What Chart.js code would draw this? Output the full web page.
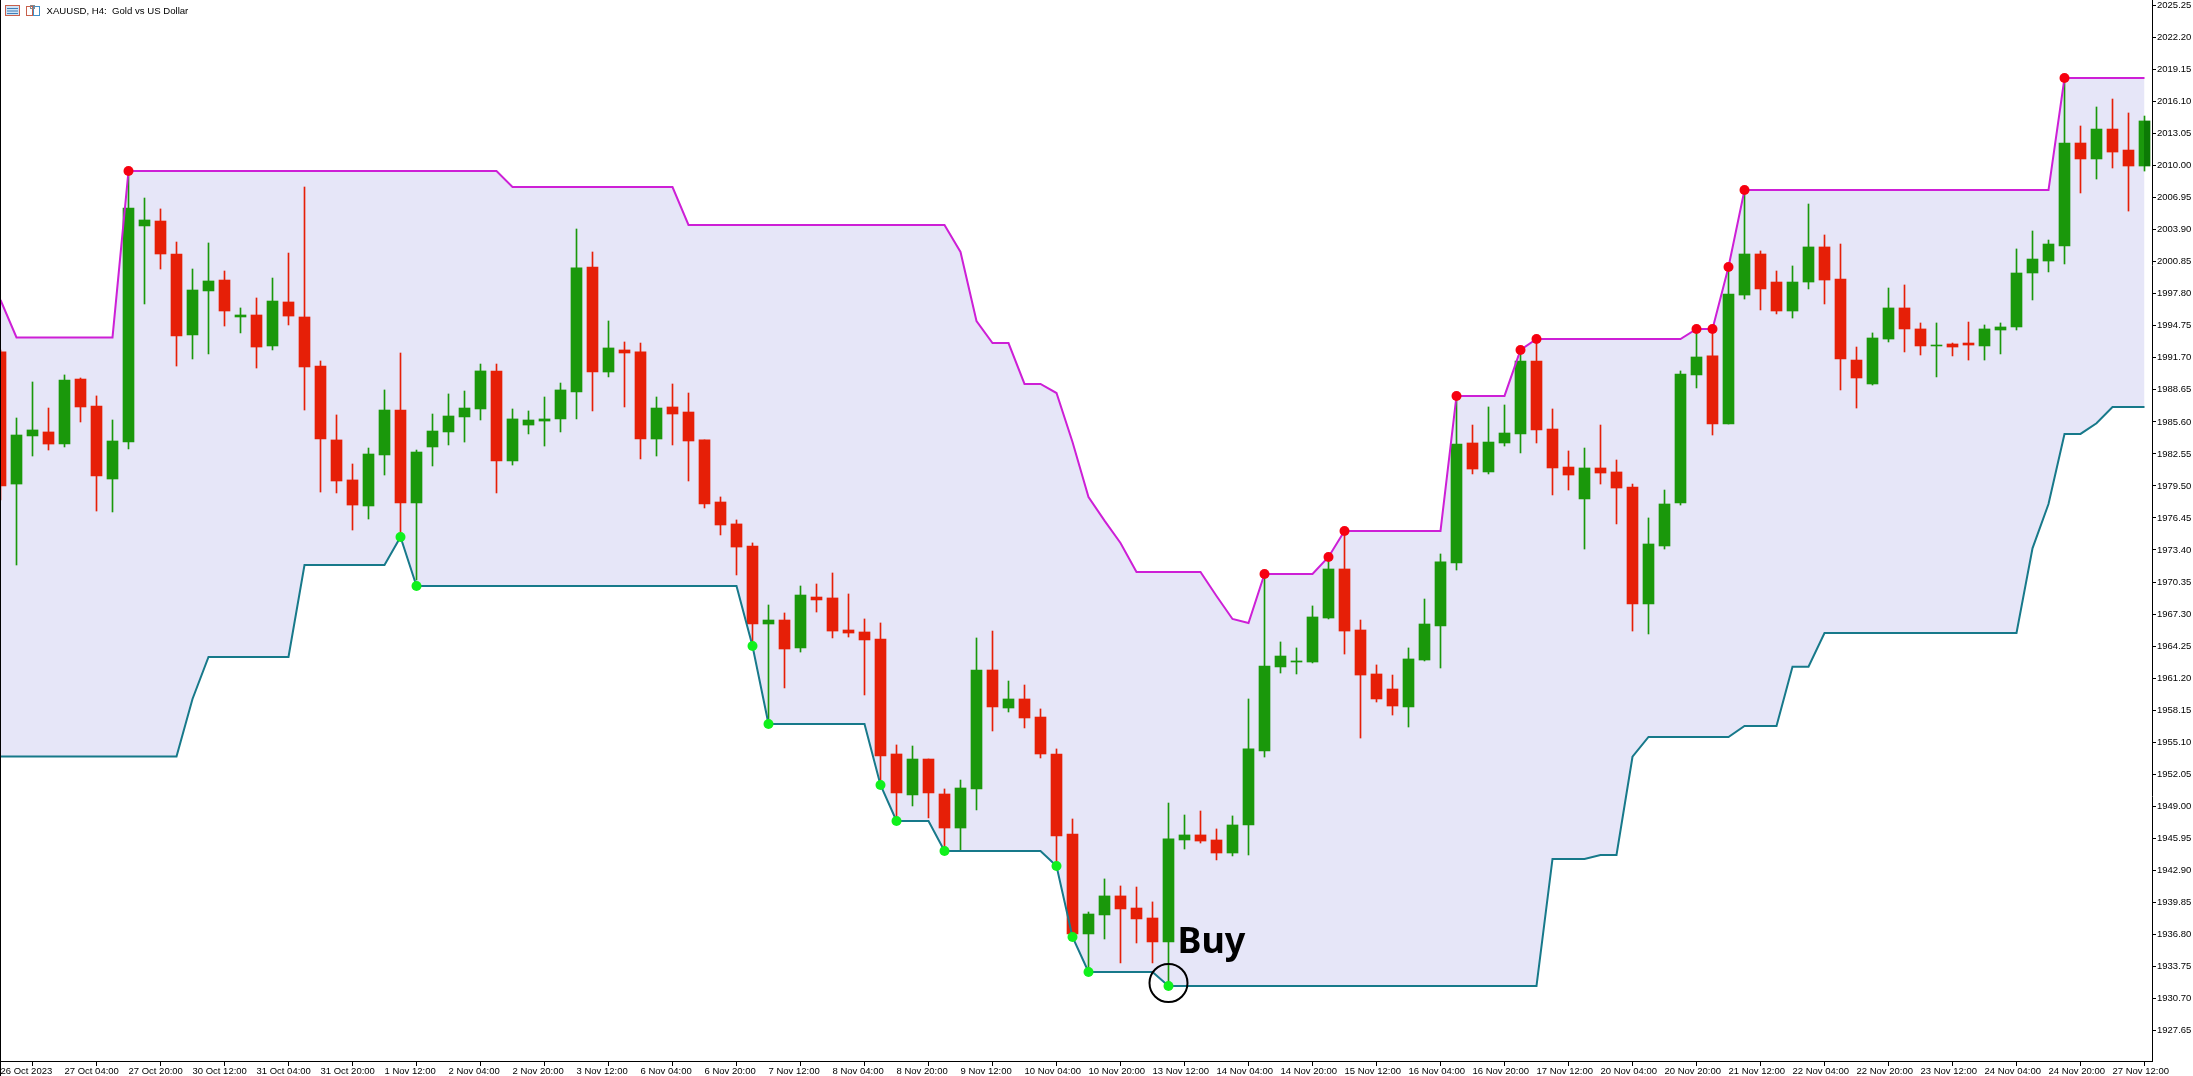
<!DOCTYPE html>
<html>
<head>
<meta charset="utf-8">
<title>XAUUSD, H4</title>
<script src="https://cdn.jsdelivr.net/npm/chart.js@4/dist/chart.umd.min.js"></script>
<style>
    html, body { margin: 0; padding: 0; background: #fff; overflow: hidden; }
    #wrap { width: 2192px; height: 1076px; border-left: 1px solid #000; }
    canvas { display: block; }
</style>
</head>
<body>
<div id="wrap"><canvas id="chart_canvas" width="2192" height="1076"></canvas></div>
<script>
const chart_title = 'XAUUSD, H4:  Gold vs US Dollar';
const buy_label = 'Buy';
const buy_index = 73;
const buy_price = 1932.16;

const time_labels = [
    '26 Oct 2023', '27 Oct 04:00', '27 Oct 20:00', '30 Oct 12:00', '31 Oct 04:00', '31 Oct 20:00', '1 Nov 12:00',
    '2 Nov 04:00', '2 Nov 20:00', '3 Nov 12:00', '6 Nov 04:00', '6 Nov 20:00', '7 Nov 12:00', '8 Nov 04:00',
    '8 Nov 20:00', '9 Nov 12:00', '10 Nov 04:00', '10 Nov 20:00', '13 Nov 12:00', '14 Nov 04:00', '14 Nov 20:00',
    '15 Nov 12:00', '16 Nov 04:00', '16 Nov 20:00', '17 Nov 12:00', '20 Nov 04:00', '20 Nov 20:00', '21 Nov 12:00',
    '22 Nov 04:00', '22 Nov 20:00', '23 Nov 12:00', '24 Nov 04:00', '24 Nov 20:00', '27 Nov 12:00'
];
const time_label_step = 4;

const price_ticks = [
    2025.25, 2022.20, 2019.15, 2016.10, 2013.05, 2010.00, 2006.95, 2003.90, 2000.85, 1997.80, 1994.75,
    1991.70, 1988.65, 1985.60, 1982.55, 1979.50, 1976.45, 1973.40, 1970.35, 1967.30, 1964.25, 1961.20,
    1958.15, 1955.10, 1952.05, 1949.00, 1945.95, 1942.90, 1939.85, 1936.80, 1933.75, 1930.70, 1927.65
];

const candle_open = [
    1992.26, 1979.68, 1984.26, 1984.64, 1983.49, 1989.68, 1987.11, 1980.16, 1983.68, 2004.26,
    2004.73, 2001.59, 1993.88, 1998.07, 1999.11, 1995.59, 1995.78, 1992.83, 1997.02, 1995.59,
    1990.92, 1983.88, 1980.07, 1977.59, 1982.45, 1986.73, 1977.88, 1983.21, 1984.64, 1986.07,
    1986.83, 1990.45, 1981.88, 1985.30, 1985.68, 1985.88, 1988.45, 2000.35, 1990.35, 1992.45,
    1992.26, 1983.97, 1987.02, 1986.54, 1983.88, 1977.97, 1975.88, 1973.78, 1966.35, 1966.73,
    1964.07, 1968.92, 1968.83, 1965.78, 1965.59, 1964.92, 1953.97, 1950.07, 1953.49, 1950.16,
    1946.92, 1950.64, 1961.97, 1958.35, 1959.21, 1957.49, 1953.97, 1946.35, 1936.83, 1938.64,
    1940.45, 1939.30, 1938.35, 1936.07, 1945.78, 1946.26, 1945.78, 1944.54, 1947.21, 1954.26,
    1962.26, 1962.73, 1962.73, 1966.92, 1971.59, 1965.78, 1961.59, 1960.16, 1958.45, 1962.92,
    1966.16, 1972.16, 1983.59, 1980.83, 1983.59, 1984.45, 1991.40, 1984.92, 1981.30, 1978.26,
    1981.21, 1980.83, 1979.40, 1968.26, 1973.78, 1977.88, 1990.07, 1991.88, 1985.40, 1997.68,
    2001.59, 1998.92, 1996.16, 1998.92, 2002.26, 1999.21, 1991.49, 1989.21, 1993.49, 1996.45,
    1994.45, 1992.83, 1993.02, 1993.11, 1992.83, 1994.35, 1994.64, 1999.78, 2000.92, 2002.35,
    2012.16, 2010.64, 2013.49, 2011.49, 2009.97
];
const candle_high = [
    1992.45, 1985.97, 1989.40, 1986.92, 1990.07, 1989.78, 1988.07, 1985.78, 2009.40, 2006.92,
    2005.88, 2002.73, 2000.16, 2002.64, 1999.97, 1996.45, 1997.40, 1999.30, 2001.68, 2007.97,
    1991.40, 1986.26, 1981.59, 1983.11, 1988.64, 1992.16, 1982.92, 1986.35, 1988.26, 1988.54,
    1991.11, 1991.11, 1986.83, 1986.64, 1987.97, 1989.30, 2003.97, 2001.78, 1995.21, 1993.21,
    1993.11, 1987.97, 1989.21, 1988.35, 1983.88, 1978.45, 1976.26, 1974.07, 1968.16, 1967.40,
    1969.97, 1970.16, 1971.21, 1969.21, 1966.83, 1966.45, 1954.83, 1954.73, 1953.49, 1950.64,
    1951.49, 1965.02, 1965.68, 1960.92, 1960.54, 1958.26, 1954.45, 1947.78, 1938.92, 1942.07,
    1941.40, 1941.30, 1939.88, 1949.30, 1948.16, 1948.54, 1946.83, 1948.07, 1959.21, 1971.11,
    1964.64, 1964.07, 1968.07, 1972.45, 1975.11, 1966.73, 1962.45, 1961.49, 1964.07, 1968.73,
    1973.02, 1987.97, 1985.30, 1987.02, 1987.21, 1992.45, 1993.49, 1986.83, 1982.83, 1983.11,
    1985.30, 1981.97, 1979.68, 1976.45, 1979.11, 1990.45, 1994.45, 1994.45, 2000.35, 2007.59,
    2001.88, 1999.97, 2000.45, 2006.35, 2003.40, 2002.54, 1992.73, 1994.07, 1998.35, 1998.64,
    1995.02, 1995.02, 1993.11, 1995.11, 1994.83, 1995.02, 2002.07, 2003.78, 2002.92, 2018.35,
    2013.78, 2015.59, 2016.35, 2015.02, 2014.73
];
const candle_low = [
    1978.16, 1971.97, 1982.35, 1982.92, 1983.21, 1985.59, 1977.11, 1977.02, 1983.02, 1996.83,
    2000.16, 1990.92, 1991.59, 1992.07, 1994.73, 1994.07, 1990.73, 1992.45, 1994.83, 1986.73,
    1978.92, 1978.83, 1975.30, 1976.35, 1980.54, 1974.64, 1970.54, 1981.40, 1983.40, 1983.68,
    1985.78, 1978.83, 1981.49, 1984.45, 1983.30, 1984.64, 1985.88, 1986.64, 1989.88, 1987.02,
    1982.07, 1982.35, 1983.40, 1979.97, 1977.40, 1974.83, 1971.02, 1964.16, 1956.73, 1960.26,
    1963.68, 1967.49, 1965.02, 1965.11, 1959.59, 1951.02, 1947.68, 1949.02, 1947.88, 1944.64,
    1944.83, 1948.64, 1956.16, 1957.97, 1956.45, 1953.59, 1943.21, 1936.54, 1933.11, 1936.35,
    1934.07, 1935.97, 1934.07, 1931.78, 1944.92, 1945.49, 1943.88, 1944.26, 1944.35, 1953.68,
    1961.68, 1961.59, 1962.64, 1966.83, 1963.49, 1955.49, 1958.92, 1957.68, 1956.54, 1962.83,
    1962.16, 1971.49, 1980.64, 1980.64, 1983.30, 1982.64, 1983.59, 1978.64, 1979.11, 1973.49,
    1979.68, 1975.88, 1965.68, 1965.40, 1973.49, 1977.68, 1988.83, 1984.35, 1985.40, 1997.30,
    1996.26, 1995.88, 1995.49, 1998.26, 1996.83, 1988.64, 1986.92, 1989.11, 1993.21, 1992.26,
    1991.97, 1989.88, 1991.88, 1991.49, 1991.49, 1992.07, 1994.35, 1997.21, 1999.88, 2000.64,
    2007.40, 2008.73, 2009.78, 2005.68, 2009.49
];
const candle_close = [
    1979.49, 1984.35, 1984.83, 1983.49, 1989.59, 1987.02, 1980.45, 1983.78, 2005.97, 2004.83,
    2001.59, 1993.78, 1998.16, 1999.02, 1996.16, 1995.78, 1992.73, 1997.11, 1995.68, 1990.83,
    1983.97, 1979.97, 1977.68, 1982.54, 1986.73, 1977.88, 1982.73, 1984.73, 1986.16, 1986.92,
    1990.45, 1981.88, 1985.88, 1985.78, 1985.88, 1988.64, 2000.26, 1990.35, 1992.64, 1992.16,
    1983.97, 1986.92, 1986.35, 1983.78, 1977.78, 1975.78, 1973.68, 1966.35, 1966.73, 1963.97,
    1969.11, 1968.64, 1965.68, 1965.49, 1964.83, 1953.78, 1950.26, 1953.49, 1950.26, 1946.92,
    1950.73, 1961.97, 1958.45, 1959.21, 1957.40, 1953.97, 1946.16, 1936.83, 1938.73, 1940.45,
    1939.21, 1938.26, 1936.07, 1945.88, 1946.26, 1945.68, 1944.54, 1947.21, 1954.45, 1962.35,
    1963.30, 1962.83, 1967.02, 1971.59, 1965.68, 1961.49, 1959.21, 1958.54, 1963.02, 1966.35,
    1972.26, 1983.49, 1981.11, 1983.68, 1984.54, 1991.40, 1984.83, 1981.21, 1980.54, 1981.21,
    1980.73, 1979.30, 1968.26, 1973.97, 1977.78, 1990.16, 1991.78, 1985.40, 1997.78, 2001.59,
    1998.26, 1996.16, 1998.92, 2002.26, 1999.11, 1991.59, 1989.78, 1993.59, 1996.45, 1994.45,
    1992.83, 1992.92, 1992.73, 1992.92, 1994.45, 1994.64, 1999.78, 2001.11, 2002.54, 2012.16,
    2010.64, 2013.49, 2011.30, 2009.97, 2014.26
];

const band_upper = [
    1997.21, 1993.64, 1993.64, 1993.64, 1993.64, 1993.64, 1993.64, 1993.64, 2009.49, 2009.49,
    2009.49, 2009.49, 2009.49, 2009.49, 2009.49, 2009.49, 2009.49, 2009.49, 2009.49, 2009.49,
    2009.49, 2009.49, 2009.49, 2009.49, 2009.49, 2009.49, 2009.49, 2009.49, 2009.49, 2009.49,
    2009.49, 2009.49, 2007.97, 2007.97, 2007.97, 2007.97, 2007.97, 2007.97, 2007.97, 2007.97,
    2007.97, 2007.97, 2007.97, 2004.35, 2004.35, 2004.35, 2004.35, 2004.35, 2004.35, 2004.35,
    2004.35, 2004.35, 2004.35, 2004.35, 2004.35, 2004.35, 2004.35, 2004.35, 2004.35, 2004.35,
    2001.78, 1995.21, 1993.11, 1993.11, 1989.21, 1989.21, 1988.35, 1983.68, 1978.45, 1976.19,
    1974.07, 1971.30, 1971.30, 1971.30, 1971.30, 1971.30, 1969.02, 1966.83, 1966.45, 1971.11,
    1971.11, 1971.11, 1971.11, 1972.73, 1975.21, 1975.21, 1975.21, 1975.21, 1975.21, 1975.21,
    1975.21, 1988.07, 1988.07, 1988.07, 1988.07, 1992.45, 1993.49, 1993.49, 1993.49, 1993.49,
    1993.49, 1993.49, 1993.49, 1993.49, 1993.49, 1993.49, 1994.45, 1994.45, 2000.35, 2007.68,
    2007.68, 2007.68, 2007.68, 2007.68, 2007.68, 2007.68, 2007.68, 2007.68, 2007.68, 2007.68,
    2007.68, 2007.68, 2007.68, 2007.68, 2007.68, 2007.68, 2007.68, 2007.68, 2007.68, 2018.35,
    2018.35, 2018.35, 2018.35, 2018.35, 2018.35
];
const band_lower = [
    1953.72, 1953.72, 1953.72, 1953.72, 1953.72, 1953.72, 1953.72, 1953.72, 1953.72, 1953.72,
    1953.72, 1953.72, 1959.21, 1963.21, 1963.21, 1963.21, 1963.21, 1963.21, 1963.21, 1971.97,
    1971.97, 1971.97, 1971.97, 1971.97, 1971.97, 1974.64, 1969.97, 1969.97, 1969.97, 1969.97,
    1969.97, 1969.97, 1969.97, 1969.97, 1969.97, 1969.97, 1969.97, 1969.97, 1969.97, 1969.97,
    1969.97, 1969.97, 1969.97, 1969.97, 1969.97, 1969.97, 1969.97, 1964.26, 1956.83, 1956.83,
    1956.83, 1956.83, 1956.83, 1956.83, 1956.83, 1951.02, 1947.59, 1947.59, 1947.59, 1944.73,
    1944.73, 1944.73, 1944.73, 1944.73, 1944.73, 1944.73, 1943.30, 1936.54, 1933.21, 1933.21,
    1933.21, 1933.21, 1933.21, 1931.88, 1931.88, 1931.88, 1931.88, 1931.88, 1931.88, 1931.88,
    1931.88, 1931.88, 1931.88, 1931.88, 1931.88, 1931.88, 1931.88, 1931.88, 1931.88, 1931.88,
    1931.88, 1931.88, 1931.88, 1931.88, 1931.88, 1931.88, 1931.88, 1943.97, 1943.97, 1943.97,
    1944.35, 1944.35, 1953.71, 1955.59, 1955.59, 1955.59, 1955.59, 1955.59, 1955.59, 1956.64,
    1956.64, 1956.64, 1962.28, 1962.28, 1965.49, 1965.49, 1965.49, 1965.49, 1965.49, 1965.49,
    1965.49, 1965.49, 1965.49, 1965.49, 1965.49, 1965.49, 1965.49, 1973.56, 1977.78, 1984.45,
    1984.45, 1985.47, 1987.02, 1987.02, 1987.02
];

// candle indexes where the indicator put a dot
const sell_dots = [8, 79, 83, 84, 91, 95, 96, 106, 107, 108, 109, 129];
const buy_dots = [25, 26, 47, 48, 55, 56, 59, 66, 67, 68, 73];

const color_up = '#1a980b';
const color_down = '#e61f07';
const color_up_dark = '#0c7a05';

function is_up(i) {
    return candle_close[i] >= candle_open[i];
}

// the band fill lightens the candles, so the half of the last candle outside of it stays dark
function body_color(context) {
    const i = context.dataIndex;
    const chart = context.chart;
    if (i === candle_open.length - 1 && chart.scales.x) {
        const x = chart.scales.x.getPixelForValue(i);
        const gradient = chart.ctx.createLinearGradient(x - 6, 0, x + 6, 0);
        gradient.addColorStop(0, color_up);
        gradient.addColorStop(0.5, color_up);
        gradient.addColorStop(0.5, color_up_dark);
        gradient.addColorStop(1, color_up_dark);
        return gradient;
    }
    return is_up(i) ? color_up : color_down;
}

function wick_color(context) {
    return is_up(context.dataIndex) ? color_up : color_down;
}

const overlay_plugin = {
    id: 'overlay',
    afterDatasetsDraw(chart) {
        const ctx = chart.ctx;
        ctx.save();

        // terminal header icons
        ctx.lineWidth = 1;
        ctx.strokeStyle = '#c8604c';
        ctx.strokeRect(4.5, 5.5, 14, 10);
        ctx.fillStyle = '#cfe3f5';
        ctx.fillRect(5, 6, 13, 9);
        ctx.strokeStyle = '#3f7fb8';
        for (let y = 8.5; y < 15; y += 2.5) {
            ctx.beginPath();
            ctx.moveTo(6, y);
            ctx.lineTo(17, y);
            ctx.stroke();
        }
        ctx.strokeStyle = '#c8604c';
        ctx.strokeRect(25.5, 6.5, 6, 9);
        ctx.strokeStyle = '#3f8fc8';
        ctx.strokeRect(32.5, 6.5, 6, 9);
        ctx.strokeStyle = '#888';
        ctx.strokeRect(29.5, 5.5, 4, 3);

        ctx.fillStyle = '#000';
        ctx.textBaseline = 'alphabetic';
        ctx.textAlign = 'left';
        ctx.font = '9.6px "Liberation Sans"';
        ctx.fillText(chart_title, 45.5, 14);

        ctx.font = 'bold 36px "Noto Sans"';
        ctx.fillText(buy_label, chart.scales.x.getPixelForValue(buy_index) + 9, 953);
        ctx.restore();
    }
};

const candle_index = candle_open.map((_, i) => i);

const chart_handler = new Chart(document.getElementById('chart_canvas'), {
    data: {
        datasets: [
            {
                type: 'line',
                data: band_upper.map((y, i) => ({x: i, y: y})),
                borderColor: '#cd1fd6',
                borderWidth: 2,
                pointRadius: 0,
                fill: 1,
                backgroundColor: '#e6e6f8',
                order: 2
            },
            {
                type: 'line',
                data: band_lower.map((y, i) => ({x: i, y: y})),
                borderColor: '#17798a',
                borderWidth: 2,
                pointRadius: 0,
                fill: false,
                order: 2
            },
            {
                type: 'bar',
                data: candle_index.map(i => ({x: i, y: [candle_low[i], candle_high[i]]})),
                backgroundColor: wick_color,
                barThickness: 1,
                grouped: false,
                order: 5
            },
            {
                type: 'bar',
                data: candle_index.map(i => ({x: i, y: [candle_open[i], candle_close[i]]})),
                backgroundColor: body_color,
                barThickness: 11,
                grouped: false,
                order: 4
            },
            {
                type: 'line',
                data: sell_dots.map(i => ({x: i, y: band_upper[i]})),
                showLine: false,
                pointRadius: 5,
                pointBorderWidth: 0,
                pointBackgroundColor: '#f6000f',
                order: 1
            },
            {
                type: 'line',
                data: buy_dots.map(i => ({x: i, y: band_lower[i]})),
                showLine: false,
                pointRadius: 5,
                pointBorderWidth: 0,
                pointBackgroundColor: '#10f01c',
                order: 1
            },
            {
                type: 'line',
                data: [{x: buy_index, y: buy_price}],
                showLine: false,
                pointRadius: 19,
                pointBorderWidth: 2,
                pointBorderColor: '#000',
                pointBackgroundColor: 'rgba(0,0,0,0)',
                order: 0
            }
        ]
    },
    options: {
        responsive: false,
        animation: false,
        events: [],
        layout: {padding: 0, autoPadding: false},
        scales: {
            x: {
                type: 'linear',
                min: 0.03125,
                max: 134.46875,
                offset: false,
                border: {color: '#000', width: 1},
                grid: {drawOnChartArea: false, color: '#000', tickLength: 5},
                ticks: {
                    color: '#000',
                    font: {family: '"Liberation Sans"', size: 9.5},
                    padding: 0,
                    align: 'start',
                    maxRotation: 0,
                    autoSkip: false,
                    callback: (value) => time_labels[value / time_label_step]
                },
                afterBuildTicks(scale) {
                    scale.ticks = time_labels.map((_, i) => ({value: i * time_label_step}));
                },
                afterFit(scale) {
                    scale.height = 15;
                    scale.paddingLeft = 0;
                    scale.paddingRight = 0;
                }
            },
            y: {
                type: 'linear',
                position: 'right',
                min: 1924.73,
                max: 2025.78,
                border: {color: '#000', width: 1},
                grid: {drawOnChartArea: false, color: '#000', tickLength: 4},
                ticks: {
                    color: '#000',
                    font: {family: '"Liberation Sans"', size: 9.5},
                    padding: 1,
                    autoSkip: false,
                    callback: (value) => value.toFixed(2)
                },
                afterBuildTicks(scale) {
                    scale.ticks = price_ticks.map(v => ({value: v}));
                },
                afterFit(scale) {
                    scale.width = 41;
                    scale.paddingTop = 0;
                    scale.paddingBottom = 0;
                }
            }
        },
        plugins: {
            legend: {display: false},
            tooltip: {enabled: false},
            filler: {drawTime: 'beforeDatasetsDraw'}
        }
    },
    plugins: [overlay_plugin]
});
</script>
</body>
</html>
